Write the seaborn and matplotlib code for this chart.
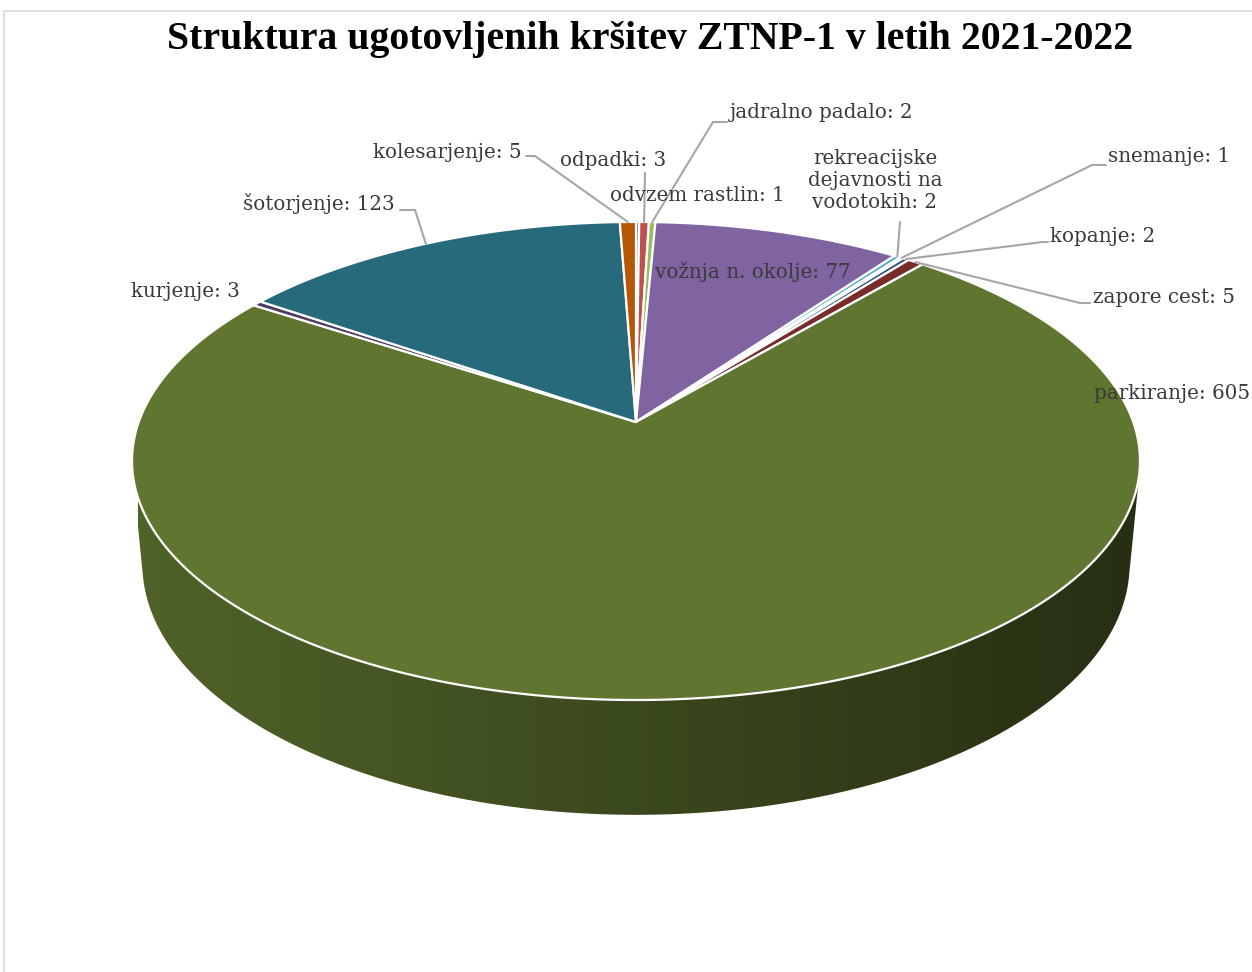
import numpy as np
import matplotlib
matplotlib.use("Agg")
import matplotlib.pyplot as plt
import seaborn as sns
from matplotlib.patches import Polygon, Rectangle

# data
title = "Struktura ugotovljenih kršitev ZTNP-1 v letih 2021-2022"
categories = ["odvzem rastlin", "odpadki", "jadralno padalo", "vožnja n. okolje",
              "rekreacijske\ndejavnosti na\nvodotokih", "snemanje", "kopanje",
              "zapore cest", "parkiranje", "kurjenje", "šotorjenje", "kolesarjenje"]
counts = [1, 3, 2, 77, 2, 1, 2, 5, 605, 3, 123, 5]
slice_colors = ["#4F81BD", "#C0504D", "#9BBB59", "#8064A2", "#4BACC6", "#F79646",
                "#2C4D75", "#772C2A", "#5F7530", "#4D3B62", "#276A7C", "#B65708"]

# label layout (pixel space): x, y, alignment, leader line points from label side
label_layout = [
    (610, 195, "left", None),
    (613, 160, "center", [(645, 173)]),
    (730, 113, "left", [(727, 122), (713, 122)]),
    (655, 272, "left", None),
    (875, 180, "center", [(900, 222)]),
    (1108, 157, "left", [(1106, 165), (1092, 165)]),
    (1050, 236, "left", [(1048, 242), (1043, 242)]),
    (1093, 297, "left", [(1090, 303), (1080, 303)]),
    (1094, 393, "left", None),
    (240, 291, "right", None),
    (395, 203, "right", [(400, 210), (415, 210)]),
    (522, 153, "right", [(526, 156), (535, 156)]),
]

# camera for the 3d look
cx, cy = 636, 422
F, D = 2695.0, 5.42
alpha = np.radians(27.9)
thick = 0.237


def project(phi, z=0.0, r=1.0):
    X = r * np.sin(phi)
    Y = r * np.cos(phi)
    zc = D + Y * np.cos(alpha) - z * np.sin(alpha)
    yc = Y * np.sin(alpha) + z * np.cos(alpha)
    return cx + F * X / zc, cy - F * yc / zc


sns.set_theme(style="white")
plt.rcParams["font.family"] = ["DejaVu Serif", "DejaVu Sans"]

fig = plt.figure(figsize=(12.52, 9.72), dpi=100)
ax = fig.add_axes([0, 0, 1, 1])
ax.set_xlim(0, 1252)
ax.set_ylim(972, 0)
ax.axis("off")

ax.add_patch(Rectangle((4, 11), 1270, 1000, fill=False, edgecolor="#d9d9d9", lw=1.2))

vals = np.array(counts, dtype=float)
edges = np.concatenate([[0], np.cumsum(vals)]) / vals.sum() * 2 * np.pi
mids = (edges[:-1] + edges[1:]) / 2

# side wall (visible part only), shaded with a smooth gradient clipped to its outline
lim = np.arccos(-1.0 / (D * np.cos(alpha)))
phis = np.linspace(lim, 2 * np.pi - lim, 600)
tx, ty = project(phis)
bx, by = project(phis[::-1], -thick)
side = Polygon(list(zip(tx, ty)) + list(zip(bx, by)), closed=True,
               facecolor="none", edgecolor="none")
ax.add_patch(side)

x0, x1 = bx.min() - 5, tx.max() + 5
cols = np.linspace(x0, x1, 800)
grad = np.zeros((2, len(cols), 3))
for k, xv in enumerate(cols):
    s = np.clip((xv - cx) / (F / D), -1, 1)
    # angle on the front half of the rim for this column
    am = np.pi - np.arcsin(s)
    idx = np.searchsorted(edges, am) - 1
    base = np.array(matplotlib.colors.to_rgb(slice_colors[idx]))
    grad[:, k, :] = np.clip(base * (0.62 - 0.22 * s), 0, 1)
img = ax.imshow(grad, extent=(x0, x1, by.max() + 5, ty.min() - 5), aspect="auto",
                interpolation="bilinear", zorder=1)
img.set_clip_path(side)

# top surface
for i in range(len(counts)):
    n = max(3, int((edges[i + 1] - edges[i]) / (2 * np.pi) * 600))
    ang = np.linspace(edges[i], edges[i + 1], n)
    px, py = project(ang)
    pts = [(cx, cy)] + list(zip(px, py))
    ax.add_patch(Polygon(pts, closed=True, facecolor=slice_colors[i],
                         edgecolor="white", lw=1.6, joinstyle="round", zorder=2))

# labels and leader lines
for i, (lx, ly, ha, leader) in enumerate(label_layout):
    ax.text(lx, ly, f"{categories[i]}: {counts[i]}", ha=ha, va="center",
            fontsize=14.3, color="#3a3a3a", linespacing=1.2, zorder=4)
    if leader:
        rx, ry = project(mids[i])
        pts = leader + [(rx, ry)]
        ax.plot([p[0] for p in pts], [p[1] for p in pts], color="#a6a6a6", lw=1.5,
                solid_joinstyle="miter", zorder=3)

ax.text(650, 40, title, ha="center", va="center", fontsize=28.6, fontweight="bold",
        color="black", family=["Liberation Serif", "DejaVu Serif"])

fig.savefig("out.png", dpi=100)
